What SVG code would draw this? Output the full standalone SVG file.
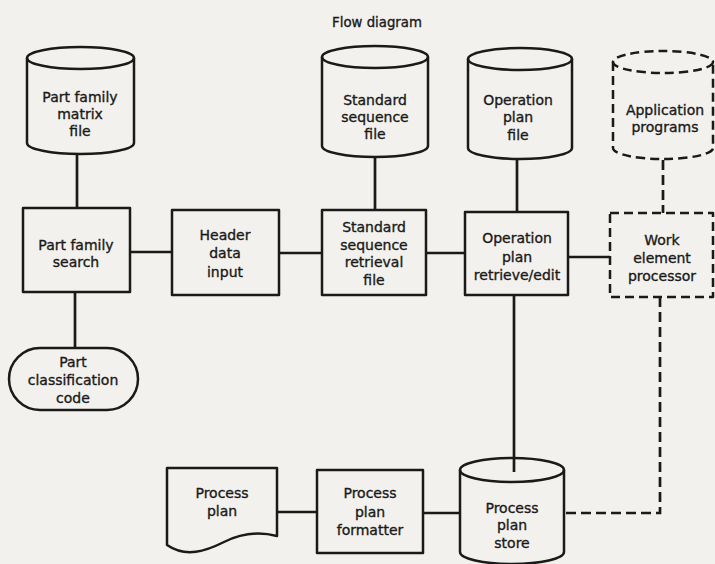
<svg xmlns="http://www.w3.org/2000/svg" width="715" height="564" viewBox="0 0 715 564">
  <style>
    .bg { fill: #f3f1ed; }
    .shape { fill: none; stroke: #1a1a1a; stroke-width: 2.5; stroke-linejoin: round; }
    .dash { stroke-dasharray: 9 5; }
    .wire { fill: none; stroke: #1a1a1a; stroke-width: 2.7; }
    .wire-dash { fill: none; stroke: #1a1a1a; stroke-width: 2.7; stroke-dasharray: 10 5; }
    text { font-family: "DejaVu Sans", "Open Sans", sans-serif; font-size: 14px; fill: #1a1a1a; stroke: #1a1a1a; stroke-width: 0.35; text-anchor: middle; }
    .title { font-size: 13.3px; }
  </style>

  <rect class="bg" x="0" y="0" width="715" height="564"/>

  <text class="title" x="377" y="27">Flow diagram</text>

  <!-- connectors -->
  <g id="connectors">
    <line class="wire" x1="77" y1="154" x2="77" y2="208"/>
    <line class="wire" x1="75" y1="292" x2="75" y2="348"/>
    <line class="wire" x1="130" y1="252" x2="172" y2="252"/>
    <line class="wire" x1="279" y1="253" x2="322" y2="253"/>
    <line class="wire" x1="375" y1="157" x2="375" y2="210"/>
    <line class="wire" x1="426" y1="253" x2="465" y2="253"/>
    <line class="wire" x1="517" y1="159" x2="517" y2="212"/>
    <line class="wire" x1="568" y1="257" x2="610" y2="257"/>
    <line class="wire" x1="514" y1="295" x2="514" y2="472"/>
    <line class="wire" x1="276" y1="512" x2="317" y2="512"/>
    <line class="wire" x1="423" y1="513" x2="460" y2="513"/>
    <line class="wire-dash" x1="663" y1="160" x2="663" y2="213"/>
    <polyline class="wire-dash" points="660,297 660,513 564,513"/>
  </g>

  <!-- nodes -->
  <g id="part-family-matrix-file">
    <path class="shape" d="M27,58 V143 A53.5,11 0 0 0 134,143 V58"/>
    <ellipse class="shape" cx="80.5" cy="58" rx="53.5" ry="11"/>
    <text x="80" y="102">Part family</text>
    <text x="80" y="119">matrix</text>
    <text x="80" y="136">file</text>
  </g>

  <g id="standard-sequence-file">
    <path class="shape" d="M322,57 V146 A53,11 0 0 0 428,146 V57"/>
    <ellipse class="shape" cx="375" cy="57" rx="53" ry="11"/>
    <text x="375" y="105">Standard</text>
    <text x="375" y="122">sequence</text>
    <text x="375" y="139">file</text>
  </g>

  <g id="operation-plan-file">
    <path class="shape" d="M468,59 V148 A52,11 0 0 0 572,148 V59"/>
    <ellipse class="shape" cx="520" cy="59" rx="52" ry="11"/>
    <text x="518" y="105">Operation</text>
    <text x="518" y="122">plan</text>
    <text x="518" y="140">file</text>
  </g>

  <g id="application-programs">
    <path class="shape dash" d="M613,62 V148 A50,11 0 0 0 713,148 V62"/>
    <ellipse class="shape dash" cx="663" cy="62" rx="50" ry="11"/>
    <text x="665" y="115">Application</text>
    <text x="665" y="132">programs</text>
  </g>

  <g id="part-family-search">
    <rect class="shape" x="23" y="208" width="107" height="84"/>
    <text x="76" y="250">Part family</text>
    <text x="76" y="267">search</text>
  </g>

  <g id="header-data-input">
    <rect class="shape" x="172" y="210" width="107" height="85"/>
    <text x="225" y="240">Header</text>
    <text x="225" y="258">data</text>
    <text x="225" y="277">input</text>
  </g>

  <g id="standard-sequence-retrieval-file">
    <rect class="shape" x="322" y="210" width="104" height="85"/>
    <text x="374" y="232">Standard</text>
    <text x="374" y="250">sequence</text>
    <text x="374" y="267">retrieval</text>
    <text x="374" y="285">file</text>
  </g>

  <g id="operation-plan-retrieve-edit">
    <rect class="shape" x="465" y="212" width="103" height="83"/>
    <text x="517" y="243">Operation</text>
    <text x="517" y="262">plan</text>
    <text x="517" y="280">retrieve/edit</text>
  </g>

  <g id="work-element-processor">
    <rect class="shape dash" x="610" y="213" width="103" height="84"/>
    <text x="662" y="245">Work</text>
    <text x="662" y="263">element</text>
    <text x="662" y="281">processor</text>
  </g>

  <g id="part-classification-code">
    <rect class="shape" x="9" y="348" width="129" height="62" rx="31" ry="31"/>
    <text x="73" y="367">Part</text>
    <text x="73" y="385">classification</text>
    <text x="73" y="403">code</text>
  </g>

  <g id="process-plan">
    <path class="shape" d="M167,468 H277 V536 C258,531 240,534 224,542 C206,551 186,558 167,545 Z"/>
    <text x="222" y="498">Process</text>
    <text x="222" y="516">plan</text>
  </g>

  <g id="process-plan-formatter">
    <rect class="shape" x="317" y="470" width="106" height="83"/>
    <text x="370" y="498">Process</text>
    <text x="370" y="517">plan</text>
    <text x="370" y="535">formatter</text>
  </g>

  <g id="process-plan-store">
    <path class="shape" d="M460,470 V552 A52,12 0 0 0 564,552 V470"/>
    <ellipse class="shape" cx="512" cy="470" rx="52" ry="12"/>
    <text x="512" y="513">Process</text>
    <text x="512" y="530">plan</text>
    <text x="512" y="548">store</text>
  </g>
</svg>
